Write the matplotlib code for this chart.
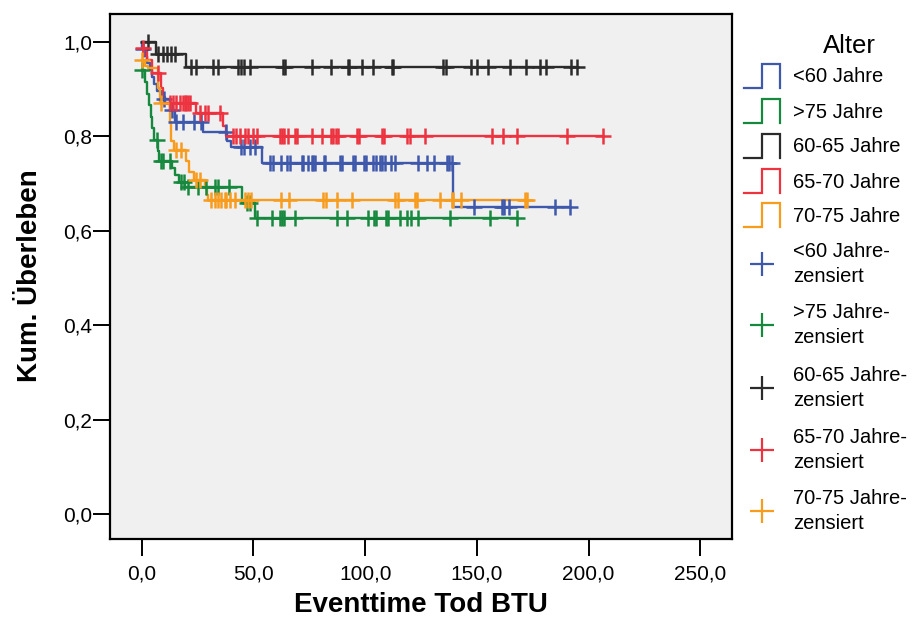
import numpy as np
import matplotlib
matplotlib.use("Agg")
import matplotlib.pyplot as plt
from matplotlib.ticker import FuncFormatter

plt.rcParams['font.family'] = ['Liberation Sans', 'DejaVu Sans']

# Kaplan-Meier Schätzer je Altersgruppe: Ereigniszeitpunkte, Überleben danach,
# zensierte Fälle
groups = ["<60 Jahre", ">75 Jahre", "60-65 Jahre", "65-70 Jahre", "70-75 Jahre"]
colors = ["#3E58AC", "#17893E", "#2B2B2B", "#EE3340", "#F89C1E"]

start_surv = [1.0, 0.94, 1.0, 0.987, 0.962]

event_times = [
    [0.3, 1.5, 2.5, 3.5, 4.5, 5.5, 7.0, 8.5, 12.5, 15.0, 27.5, 38.0, 40.0, 54.0, 139.5],
    [1.5, 2.5, 3.3, 4.2, 4.8, 5.5, 7.2, 7.6, 13.5, 14.7, 16.5, 19.2, 44.7, 50.7],
    [6.5, 19.9],
    [2.5, 4.5, 8.5, 9.5, 10.5, 24.5, 36.3, 37.8],
    [1.5, 3.0, 7.2, 8.2, 12.5, 13.0, 14.5, 19.8, 21.0, 23.6, 28.1, 29.0, 29.6],
]
event_surv = [
    [0.985, 0.970, 0.955, 0.940, 0.925, 0.910, 0.895, 0.880, 0.855, 0.831, 0.810, 0.790, 0.778, 0.744, 0.650],
    [0.915, 0.890, 0.866, 0.841, 0.817, 0.793, 0.768, 0.747, 0.733, 0.718, 0.704, 0.693, 0.658, 0.627],
    [0.974, 0.946],
    [0.961, 0.934, 0.902, 0.884, 0.870, 0.849, 0.821, 0.800],
    [0.949, 0.944, 0.902, 0.870, 0.831, 0.790, 0.771, 0.747, 0.725, 0.708, 0.690, 0.676, 0.665],
]
censored = [
    [0.5, 10.0, 13.5, 15.5, 18.5, 23.5, 26.5, 37.5, 44.5, 46.0, 48.5, 50.5, 57.3, 58.7, 62.5,
     65.2, 66.2, 71.6, 72.3, 74.4, 76.1, 76.8, 77.6, 81.7, 82.1, 88.8, 89.5, 94.7, 95.5, 99.5,
     100.2, 103.7, 105.0, 106.5, 107.4, 109.0, 111.4, 113.4, 123.7, 127.6, 130.6, 136.6, 137.6,
     138.8, 148.9, 161.3, 162.0, 164.3, 184.9, 191.9],
    [0.3, 6.7, 8.5, 9.7, 12.5, 17.5, 18.8, 20.7, 25.2, 28.9, 32.8, 34.2, 39.2, 47.0, 48.5,
     51.4, 58.2, 61.9, 63.0, 63.5, 68.6, 87.6, 91.9, 101.4, 104.0, 104.8, 109.5, 110.1, 115.5,
     118.6, 120.5, 123.6, 138.0, 156.0, 167.9],
    [3.0, 7.2, 9.5, 11.5, 13.2, 14.7, 22.1, 24.4, 31.9, 34.1, 43.1, 44.5, 46.0, 48.3, 63.2,
     64.0, 76.4, 84.6, 92.2, 92.9, 98.8, 103.4, 111.9, 112.3, 135.0, 136.1, 147.3, 150.0,
     154.9, 164.9, 172.1, 178.1, 180.9, 192.1, 194.8],
    [0.5, 7.2, 12.5, 14.0, 15.5, 17.0, 18.5, 19.2, 20.0, 20.7, 21.4, 26.0, 28.2, 29.7, 35.0,
     40.9, 42.4, 43.9, 46.2, 47.6, 49.9, 51.4, 61.8, 62.6, 63.5, 65.5, 68.7, 69.7, 76.4, 80.9,
     84.6, 85.7, 87.0, 87.9, 96.5, 97.4, 107.4, 108.3, 118.8, 120.3, 127.0, 157.0, 161.5,
     168.0, 190.3, 206.5],
    [0.3, 8.7, 15.5, 17.5, 24.3, 26.3, 31.1, 32.6, 34.1, 35.6, 37.1, 37.8, 39.3, 41.6, 46.1,
     47.5, 49.0, 62.5, 66.0, 81.0, 82.3, 87.5, 94.0, 113.5, 114.7, 122.5, 123.1, 133.5, 138.8,
     139.5, 142.7, 171.6, 172.4],
]

x_ticks = [0, 50, 100, 150, 200, 250]
y_ticks = [0.0, 0.2, 0.4, 0.6, 0.8, 1.0]

W, H = 914, 632
fig = plt.figure(figsize=(W / 100, H / 100), dpi=100)
fig.patch.set_facecolor("white")

ax = fig.add_axes([110 / W, 1 - 539 / H, (732 - 110) / W, (539 - 14) / H])
ax.set_facecolor("#F0F0F0")


def surv_at(times, surv, s0, t):
    idx = np.searchsorted(times, t, side="right")
    vals = np.concatenate([[s0], surv])
    return vals[idx]


# Kurven
for i in range(len(groups)):
    et = np.array(event_times[i])
    es = np.array(event_surv[i])
    ct = np.array(censored[i])
    t_end = max(ct.max(), et.max())
    xs = np.concatenate([[0.0], et, [t_end]])
    ys = np.concatenate([[start_surv[i]], es, [es[-1]]])
    ax.step(xs, ys, where="post", color=colors[i], lw=1.7, zorder=2 + i * 0.1)

# Zensierte Fälle
for i in range(len(groups)):
    ct = np.array(censored[i])
    cy = surv_at(np.array(event_times[i]), np.array(event_surv[i]), start_surv[i], ct)
    ax.plot(ct, cy, ls="none", marker="+", ms=11, mew=1.8, color=colors[i], zorder=3 + i * 0.1)

ax.set_xlim(-14.2, 264.2)
ax.set_ylim(-0.053, 1.059)
ax.set_xticks(x_ticks)
ax.set_yticks(y_ticks)
ax.xaxis.set_major_formatter(FuncFormatter(lambda v, p: f"{v:.1f}".replace(".", ",")))
ax.yaxis.set_major_formatter(FuncFormatter(lambda v, p: f"{v:.1f}".replace(".", ",")))
ax.tick_params(axis="both", direction="out", length=12, width=1.4, labelsize=15, color="black")
ax.tick_params(axis="y", pad=1)
ax.tick_params(axis="x", pad=6)
for sp in ax.spines.values():
    sp.set_linewidth(1.6)
    sp.set_color("black")

fig.text(421 / W, 1 - 605 / H, "Eventtime Tod BTU", ha="center", va="center",
         fontsize=20, fontweight="bold")
fig.text(30 / W, 1 - 276 / H, "Kum. Überleben", ha="center", va="center",
         rotation=90, fontsize=20, fontweight="bold")

# Legende in Pixelkoordinaten
lg = fig.add_axes([0, 0, 1, 1], facecolor="none")
lg.set_xlim(0, W)
lg.set_ylim(H, 0)
lg.axis("off")

lg.text(849, 46, "Alter", ha="center", va="center", fontsize=18.5)
row_y = [76, 111, 146, 181, 215]
for i, name in enumerate(groups):
    y = row_y[i]
    lg.plot([744, 762, 762, 780, 780], [y + 12, y + 12, y - 12, y - 12, y + 12],
            color=colors[i], lw=1.6, solid_joinstyle="miter")
    lg.text(793, y + 1, name, ha="left", va="center", fontsize=14.5)

cens_y = [264, 325, 388, 450, 511]
for i, name in enumerate(groups):
    y = cens_y[i]
    lg.plot([762], [y], marker="+", ms=17, mew=1.6, color=colors[i], ls="none")
    lg.text(793, y, name + "-\nzensiert", ha="left", va="center", fontsize=14.5,
            linespacing=1.35)

fig.savefig("out.png", dpi=100)
